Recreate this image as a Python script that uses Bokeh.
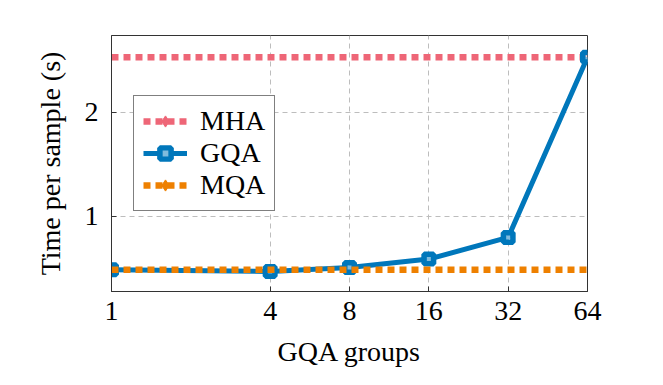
from bokeh.plotting import figure
from bokeh.models import Legend, LegendItem, FixedTicker, Range1d
from bokeh.embed import file_html
from bokeh.resources import INLINE

# data
groups = [1, 4, 8, 16, 32, 64]
gqa_time = [0.487, 0.471, 0.51, 0.59, 0.798, 2.529]
mha_x = [1, 64]
mha_time = [2.529, 2.529]
mqa_x = [1, 64]
mqa_time = [0.487, 0.487]
x_ticks = [1, 4, 8, 16, 32, 64]
y_ticks = [1, 2]
nan = [float("nan")]

FONT = "Liberation Serif"
FS = "28px"
MHA_C = "#EE6677"
GQA_C = "#0077BB"
MQA_C = "#EE8000"
GRID_C = "#BDBDBD"

p = figure(
    frame_width=476, frame_height=256,
    x_axis_type="log", x_range=Range1d(1, 64), y_range=Range1d(0.279, 2.737),
    output_backend="svg", toolbar_location=None,
    min_border_left=111, min_border_top=35, min_border_right=45, min_border_bottom=60,
    x_axis_label="GQA groups", y_axis_label="Time per sample (s)",
)
p.background_fill_color = "white"
p.border_fill_color = "white"
p.outline_line_color = "#333333"
p.outline_line_width = 1

for ax in (p.xaxis[0], p.yaxis[0]):
    ax.axis_line_color = "#333333"
    ax.major_tick_in = 5
    ax.major_tick_out = 0
    ax.minor_tick_in = 0
    ax.minor_tick_out = 0
    ax.major_tick_line_color = "#333333"
    ax.major_label_text_font = FONT
    ax.major_label_text_font_size = FS
    ax.major_label_text_color = "black"
    ax.axis_label_text_font = FONT
    ax.axis_label_text_font_size = FS
    ax.axis_label_text_font_style = "normal"
    ax.axis_label_text_color = "black"

p.xaxis[0].ticker = FixedTicker(ticks=x_ticks)
p.xaxis[0].major_label_overrides = {t: str(t) for t in x_ticks}
p.xaxis[0].major_label_standoff = 10
p.xaxis[0].axis_label_standoff = 13
p.yaxis[0].ticker = FixedTicker(ticks=y_ticks)
p.yaxis[0].major_label_standoff = 13
p.yaxis[0].axis_label_standoff = 16

p.grid.grid_line_color = GRID_C
p.grid.grid_line_dash = "5 4"
p.grid.grid_line_width = 1
p.xgrid.ticker = FixedTicker(ticks=x_ticks)
p.ygrid.ticker = FixedTicker(ticks=y_ticks)

r_mha = p.line(mha_x, mha_time, line_color=MHA_C, line_width=6.5, line_dash="7 5")
r_mha_m = p.scatter(nan, nan, marker="diamond", size=17, fill_color=MHA_C, line_color=MHA_C)
r_gqa = p.line(groups, gqa_time, line_color=GQA_C, line_width=5)
r_gqa_m = p.scatter(groups, gqa_time, marker="square", size=9.5, line_width=5.5,
                    line_color=GQA_C, fill_color="white", fill_alpha=0.5)
r_mqa = p.line(mqa_x, mqa_time, line_color=MQA_C, line_width=6.5, line_dash="7 5")
r_mqa_m = p.scatter(nan, nan, marker="diamond", size=17, fill_color=MQA_C, line_color=MQA_C)

legend = Legend(
    items=[
        LegendItem(label="MHA", renderers=[r_mha, r_mha_m]),
        LegendItem(label="GQA", renderers=[r_gqa, r_gqa_m]),
        LegendItem(label="MQA", renderers=[r_mqa, r_mqa_m]),
    ],
    location=(22, 80),
    label_text_font=FONT, label_text_font_size=FS, label_text_color="black",
    glyph_width=44, glyph_height=28, label_height=28, spacing=0,
    padding=9, label_standoff=13, margin=0,
    border_line_color="black", border_line_width=1,
    background_fill_color="white", background_fill_alpha=1.0,
)
p.add_layout(legend, "center")

open("out.html", "w").write(file_html(p, INLINE))
